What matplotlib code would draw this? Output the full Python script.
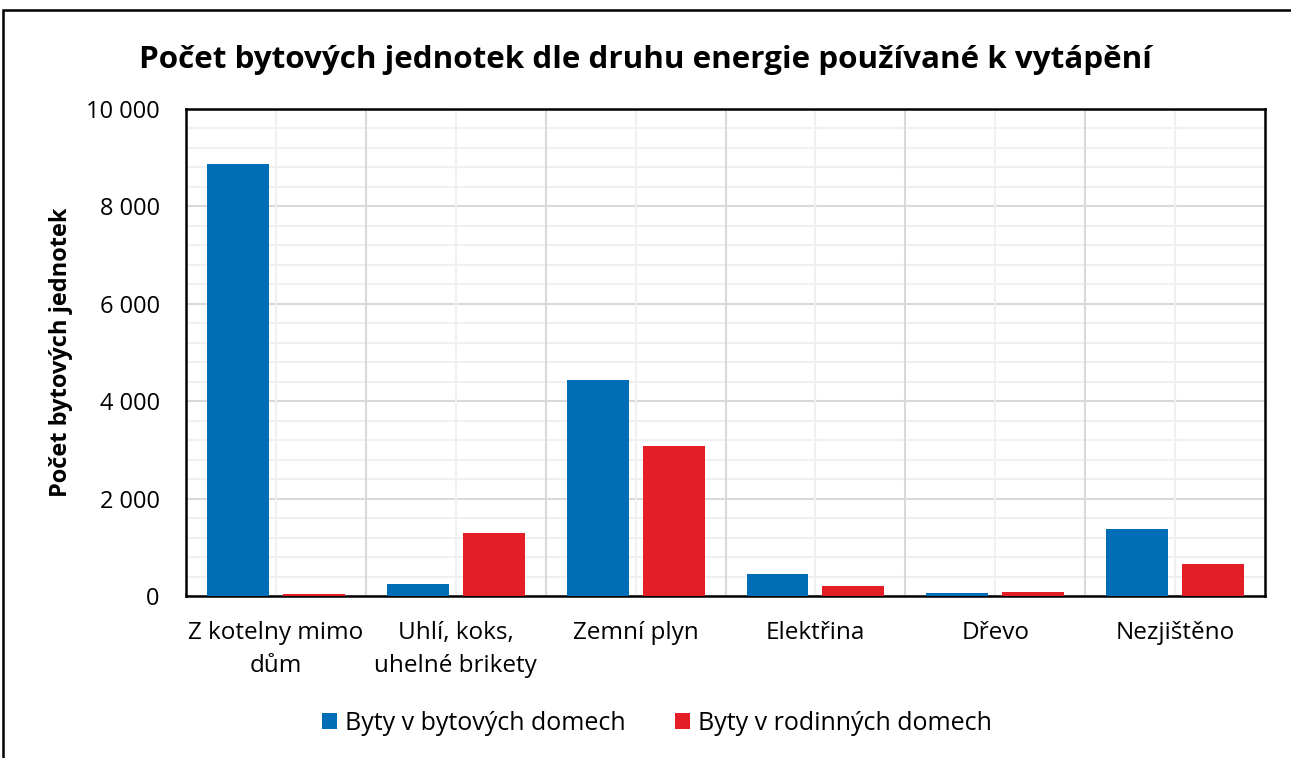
import matplotlib.pyplot as plt
import numpy as np
from matplotlib.patches import Rectangle
from matplotlib.ticker import FuncFormatter, MultipleLocator

plt.rcParams.update({
    "font.family": ["Open Sans", "DejaVu Sans"],
    "font.size": 17,
})

categories = ["Z kotelny mimo\ndům", "Uhlí, koks,\nuhelné brikety", "Zemní plyn",
              "Elektřina", "Dřevo", "Nezjištěno"]
byty_bytove = [8870, 240, 4435, 458, 68, 1370]
byty_rodinne = [40, 1300, 3074, 212, 88, 663]
series_labels = ["Byty v bytových domech", "Byty v rodinných domech"]
colors = ["#006EB6", "#E31E26"]

fig = plt.figure(figsize=(12.91, 7.58), dpi=100)
ax = fig.add_axes([0.1441, 0.2137, 0.8358, 0.6425])

x = np.arange(len(categories))
w = 0.344
gap = 0.078
ax.bar(x - (w + gap) / 2, byty_bytove, w, color=colors[0], label=series_labels[0], zorder=3)
ax.bar(x + (w + gap) / 2, byty_rodinne, w, color=colors[1], label=series_labels[1], zorder=3)

ax.set_xlim(-0.5, len(categories) - 0.5)
ax.set_ylim(0, 10000)
ax.yaxis.set_major_locator(MultipleLocator(2000))
ax.yaxis.set_minor_locator(MultipleLocator(400))
ax.yaxis.set_major_formatter(FuncFormatter(lambda v, p: f"{int(v):,}".replace(",", " ")))

# vertical grid: category boundaries (major) and centers (minor)
for b in np.arange(0.5, len(categories) - 0.5, 1):
    ax.axvline(b, color="#d9d9d9", lw=1.5, zorder=1)
for c in x:
    ax.axvline(c, color="#f0f0f0", lw=1.5, zorder=1)
ax.grid(axis="y", which="major", color="#d9d9d9", lw=1.5, zorder=1)
ax.grid(axis="y", which="minor", color="#f0f0f0", lw=1.5, zorder=1)
ax.set_axisbelow(True)

ax.set_xticks(x)
ax.set_xticklabels(categories, fontsize=17.5, linespacing=1.5)
ax.tick_params(axis="both", which="both", length=0)
ax.tick_params(axis="x", pad=18)
ax.tick_params(axis="y", pad=19, labelsize=17)
for s in ax.spines.values():
    s.set_color("black")
    s.set_linewidth(1.8)

ax.set_ylabel("Počet bytových jednotek", fontsize=17, fontweight="bold", labelpad=9)
fig.text(0.5, 0.921, "Počet bytových jednotek dle druhu energie používané k vytápění",
         ha="center", va="center", fontsize=22.6, fontweight="bold")

fig.legend(loc="center", bbox_to_anchor=(0.509, 0.046), ncol=2, frameon=False,
           fontsize=18, handlelength=0.6, handleheight=0.6, handletextpad=0.3,
           columnspacing=2.0)

fig.patches.append(Rectangle((3 / 1291, -0.01), 1.0, 1 - 10 / 758 + 0.01,
                             transform=fig.transFigure, fill=False,
                             edgecolor="black", lw=1.8))

fig.savefig("out.png", dpi=100)
